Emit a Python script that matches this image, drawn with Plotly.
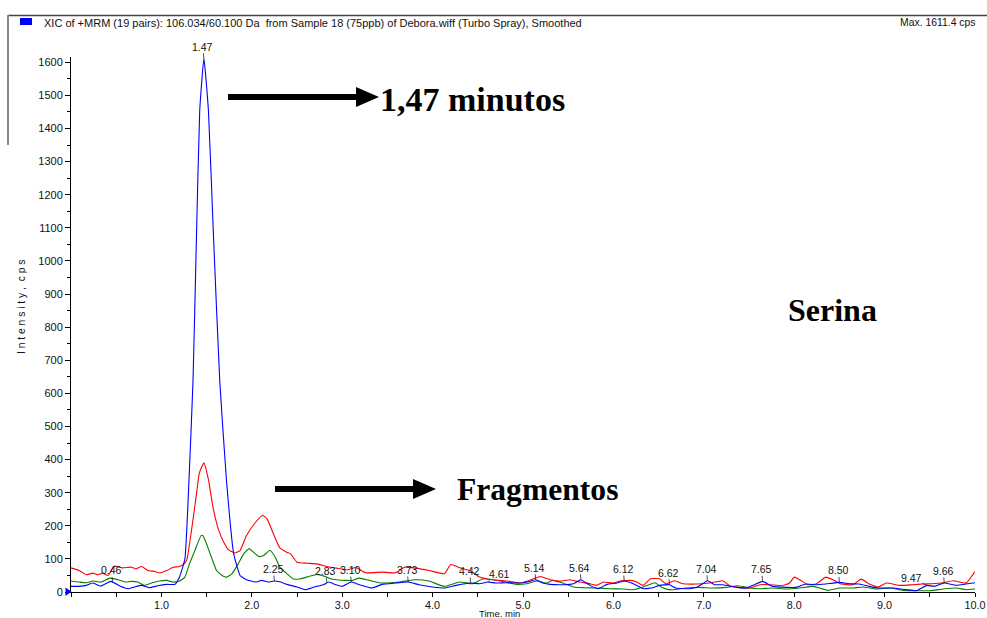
import numpy as np
import plotly.graph_objects as go

# XIC traces (retention time in min, intensity in cps)
blue_time = [0.00, 0.09, 0.17, 0.24, 0.33, 0.44, 0.54, 0.63, 0.70, 0.78, 0.87, 0.96, 1.06, 1.15, 1.20,
             1.26, 1.305, 1.35, 1.387, 1.424, 1.47, 1.52, 1.578, 1.645, 1.72, 1.80, 1.87, 1.94, 2.04,
             2.11, 2.18, 2.25, 2.32, 2.39, 2.50, 2.59, 2.69, 2.80, 2.85, 2.93, 3.00, 3.10, 3.19, 3.33,
             3.44, 3.59, 3.73, 3.85, 4.00, 4.13, 4.26, 4.42, 4.52, 4.61, 4.70, 4.81, 4.96, 5.05, 5.14,
             5.22, 5.30, 5.44, 5.56, 5.64, 5.74, 5.83, 5.93, 6.04, 6.12, 6.22, 6.33, 6.44, 6.51, 6.62,
             6.69, 6.84, 6.93, 7.04, 7.12, 7.21, 7.36, 7.47, 7.56, 7.65, 7.76, 7.91, 8.02, 8.13, 8.24,
             8.35, 8.50, 8.61, 8.72, 8.83, 8.94, 9.09, 9.24, 9.35, 9.47, 9.55, 9.66, 9.79, 9.90, 10.0]
blue_cps = [17, 17, 20, 27, 18, 32, 18, 10, 15, 20, 13, 19, 23, 23, 45,
            100, 337, 640, 1062, 1455, 1611, 1455, 1062, 640, 337, 115, 50, 37, 30,
            35, 30, 33, 30, 23, 15, 7, 15, 23, 30, 22, 17, 30, 22, 12,
            23, 27, 30, 22, 15, 12, 20, 27, 25, 30, 27, 28, 27, 30, 37,
            27, 23, 22, 25, 37, 20, 10, 23, 27, 33, 25, 10, 13, 20, 22,
            12, 10, 15, 34, 22, 22, 14, 12, 22, 32, 17, 14, 14, 24, 22,
            24, 29, 25, 24, 17, 12, 12, 7, 4, 20, 17, 27, 20, 24, 28]

red_time = [0.00, 0.09, 0.17, 0.24, 0.30, 0.35, 0.41, 0.48, 0.57, 0.67, 0.72, 0.78, 0.85, 0.93, 0.98,
            1.06, 1.13, 1.20, 1.25, 1.28, 1.33, 1.39, 1.42, 1.47, 1.52, 1.57, 1.63, 1.69, 1.74, 1.81,
            1.87, 1.94, 2.04, 2.12, 2.17, 2.24, 2.31, 2.38, 2.43, 2.50, 2.61, 2.72, 2.83, 2.94, 3.06,
            3.15, 3.26, 3.44, 3.59, 3.69, 3.81, 3.96, 4.13, 4.20, 4.30, 4.41, 4.52, 4.63, 4.74, 4.85,
            4.96, 5.07, 5.19, 5.30, 5.41, 5.52, 5.63, 5.74, 5.81, 5.89, 6.00, 6.07, 6.19, 6.26, 6.33,
            6.41, 6.51, 6.58, 6.68, 6.77, 6.92, 7.06, 7.21, 7.28, 7.39, 7.51, 7.62, 7.73, 7.87, 7.95,
            8.00, 8.08, 8.15, 8.24, 8.35, 8.43, 8.52, 8.65, 8.74, 8.83, 8.93, 9.02, 9.17, 9.31, 9.42,
            9.52, 9.63, 9.76, 9.90, 10.0]
red_cps = [73, 65, 52, 57, 52, 57, 50, 78, 73, 75, 70, 77, 65, 62, 58,
           65, 75, 77, 85, 96, 180, 300, 360, 390, 340, 257, 190, 150, 128, 118,
           125, 170, 210, 232, 220, 175, 133, 121, 115, 90, 87, 85, 77, 72, 67,
           74, 58, 60, 58, 75, 72, 65, 55, 83, 73, 65, 45, 38, 35, 32,
           27, 35, 47, 37, 33, 37, 30, 25, 20, 30, 27, 33, 35, 30, 20,
           40, 40, 25, 34, 25, 24, 27, 34, 20, 14, 12, 22, 22, 19, 27,
           45, 34, 22, 24, 45, 37, 24, 22, 39, 24, 15, 27, 20, 22, 24,
           25, 27, 34, 27, 62]

green_time = [0.00, 0.09, 0.17, 0.24, 0.33, 0.43, 0.52, 0.61, 0.67, 0.74, 0.81, 0.89, 0.98, 1.06, 1.13,
              1.20, 1.26, 1.31, 1.37, 1.44, 1.46, 1.50, 1.56, 1.61, 1.67, 1.72, 1.78, 1.85, 1.91, 1.97,
              2.02, 2.08, 2.13, 2.20, 2.26, 2.31, 2.39, 2.46, 2.54, 2.63, 2.72, 2.80, 2.87, 2.94, 3.04,
              3.11, 3.19, 3.30, 3.44, 3.63, 3.81, 3.96, 4.13, 4.30, 4.44, 4.56, 4.67, 4.81, 4.93, 5.04,
              5.15, 5.26, 5.33, 5.44, 5.56, 5.67, 5.81, 5.96, 6.11, 6.22, 6.33, 6.46, 6.53, 6.60, 6.66,
              6.80, 6.95, 7.10, 7.25, 7.38, 7.51, 7.62, 7.76, 7.91, 8.06, 8.21, 8.37, 8.50, 8.65, 8.76,
              8.91, 9.06, 9.20, 9.35, 9.50, 9.65, 9.79, 9.90, 10.0]
green_cps = [33, 30, 28, 33, 30, 42, 37, 30, 32, 30, 20, 27, 33, 35, 30,
             33, 45, 85, 125, 171, 170, 145, 100, 65, 50, 45, 55, 85, 115, 131,
             120, 107, 110, 126, 105, 75, 55, 39, 40, 47, 53, 48, 40, 37, 35,
             35, 42, 35, 27, 30, 37, 33, 17, 30, 25, 40, 37, 30, 23, 25,
             33, 27, 35, 27, 15, 13, 12, 10, 9, 7, 15, 28, 15, 8, 7,
             12, 14, 12, 14, 19, 12, 10, 12, 9, 12, 17, 5, 12, 12, 15,
             9, 12, 5, 4, 4, 9, 12, 7, 9]

# Apex times picked on the blue trace
peak_times = [0.46, 1.47, 2.25, 2.83, 3.10, 3.73, 4.42, 4.61, 5.14, 5.64,
              6.12, 6.62, 7.04, 7.65, 8.50, 9.47, 9.66]

x_ticks = [1, 2, 3, 4, 5, 6, 7, 8, 9, 10]
y_ticks = list(range(0, 1700, 100))

# ---- page geometry (pixels) ----
W, H = 987, 618
ML, MR, MT, MB = 71, 12, 57, 26
PW, PH = W - ML - MR, H - MT - MB


def px(x):
    return (x - ML) / PW


def py(y):
    return (H - MB - y) / PH


SANS = "Liberation Sans, Arial, sans-serif"
SERIF = "Liberation Serif, Times New Roman, serif"

fig = go.Figure()
for t, v, c in [(green_time, green_cps, "#008000"),
                (red_time, red_cps, "#FF0000"),
                (blue_time, blue_cps, "#0000FF")]:
    fig.add_trace(go.Scatter(x=t, y=v, mode="lines",
                             line=dict(color=c, width=1.1, shape="spline", smoothing=0.4),
                             hoverinfo="skip", showlegend=False))

annotations = []

# peak labels with short leader lines
label_offsets = {4.61: (12, -8), 9.47: (-16, -7)}
for pt in peak_times:
    ax, ay = label_offsets.get(pt, (-1, -12))
    annotations.append(dict(
        x=pt, y=float(np.interp(pt, blue_time, blue_cps)), xref="x", yref="y",
        text=f"{pt:.2f}", showarrow=True, arrowhead=0, arrowwidth=0.8,
        arrowcolor="#222", ax=ax, ay=ay, standoff=0,
        font=dict(family=SANS, size=10.5, color="#111"), borderpad=0))

# header
annotations.append(dict(
    x=px(42), y=py(23), xref="paper", yref="paper", xanchor="left", yanchor="middle",
    text="XIC of +MRM (19 pairs): 106.034/60.100 Da \u00a0from Sample 18 (75ppb) of Debora.wiff (Turbo Spray), Smoothed",
    showarrow=False, font=dict(family=SANS, size=11, color="#111")))
annotations.append(dict(
    x=px(977), y=py(23), xref="paper", yref="paper", xanchor="right", yanchor="middle",
    text="Max. 1611.4 cps", showarrow=False, font=dict(family=SANS, size=10.4, color="#111")))

# axis titles
annotations.append(dict(
    x=px(499), y=py(613.5), xref="paper", yref="paper", xanchor="center", yanchor="middle",
    text="Time. min", showarrow=False, font=dict(family=SANS, size=9.5, color="#111")))
annotations.append(dict(
    x=px(21), y=py(307), xref="paper", yref="paper", xanchor="center", yanchor="middle",
    text="I n t e n s i t y , \u00a0c p s", textangle=-90, showarrow=False,
    font=dict(family=SANS, size=10.3, color="#111")))

# callouts
for txt, cx, cy, fs in [("1,47 minutos", 472, 99, 34), ("Fragmentos", 537, 489, 31.6),
                        ("Serina", 832, 310, 32)]:
    annotations.append(dict(
        x=px(cx), y=py(cy), xref="paper", yref="paper", xanchor="center", yanchor="middle",
        text=f"<b>{txt}</b>", showarrow=False, font=dict(family=SERIF, size=fs, color="#000")))

shapes = []
# frame decorations
shapes.append(dict(type="line", xref="paper", yref="paper", x0=px(8), x1=px(987),
                   y0=py(15.5), y1=py(15.5), line=dict(color="#444", width=1.5)))
shapes.append(dict(type="line", xref="paper", yref="paper", x0=px(8), x1=px(8),
                   y0=py(15), y1=py(145), line=dict(color="#888", width=2)))
shapes.append(dict(type="rect", xref="paper", yref="paper", x0=px(20), x1=px(32),
                   y0=py(25), y1=py(18), fillcolor="#0000FF", line=dict(width=0)))
# baseline marker at the origin
shapes.append(dict(type="path", xref="paper", yref="paper",
                   path=f"M{px(65.5)},{py(587.5)} L{px(71.5)},{py(591.7)} L{px(65.5)},{py(596)} Z",
                   fillcolor="#0000FF", line=dict(width=0)))

# thick callout arrows
for x0, x1, yy in [(228, 379, 97), (275, 436, 489)]:
    shapes.append(dict(type="line", xref="paper", yref="paper", x0=px(x0), x1=px(x1 - 20),
                       y0=py(yy), y1=py(yy), line=dict(color="#000", width=6)))
    shapes.append(dict(type="path", xref="paper", yref="paper",
                       path=f"M{px(x1 - 23)},{py(yy - 10)} L{px(x1)},{py(yy)} L{px(x1 - 23)},{py(yy + 10)} Z",
                       fillcolor="#000", line=dict(width=0)))

fig.update_layout(
    width=W, height=H,
    margin=dict(l=ML, r=MR, t=MT, b=MB),
    plot_bgcolor="white", paper_bgcolor="white",
    annotations=annotations, shapes=shapes,
    xaxis=dict(range=[0, 10], tickvals=x_ticks, tickformat=".1f", ticks="outside",
               ticklen=3, tickwidth=1, tickcolor="#000", showline=True, linecolor="#000",
               linewidth=1, showgrid=False, zeroline=False, automargin=False,
               tickfont=dict(family=SANS, size=10.8, color="#111"),
               minor=dict(dtick=0.5, tick0=0, ticks="outside", ticklen=4, tickcolor="#000")),
    yaxis=dict(range=[0, 1616], tickvals=y_ticks, ticks="outside",
               ticklen=5, tickwidth=1, tickcolor="#000", showline=True, linecolor="#000",
               linewidth=1, showgrid=False, zeroline=False, automargin=False,
               tickfont=dict(family=SANS, size=11, color="#111"),
               minor=dict(dtick=50, tick0=0, ticks="outside", ticklen=3, tickcolor="#000")),
)

fig.write_html("out.html")
